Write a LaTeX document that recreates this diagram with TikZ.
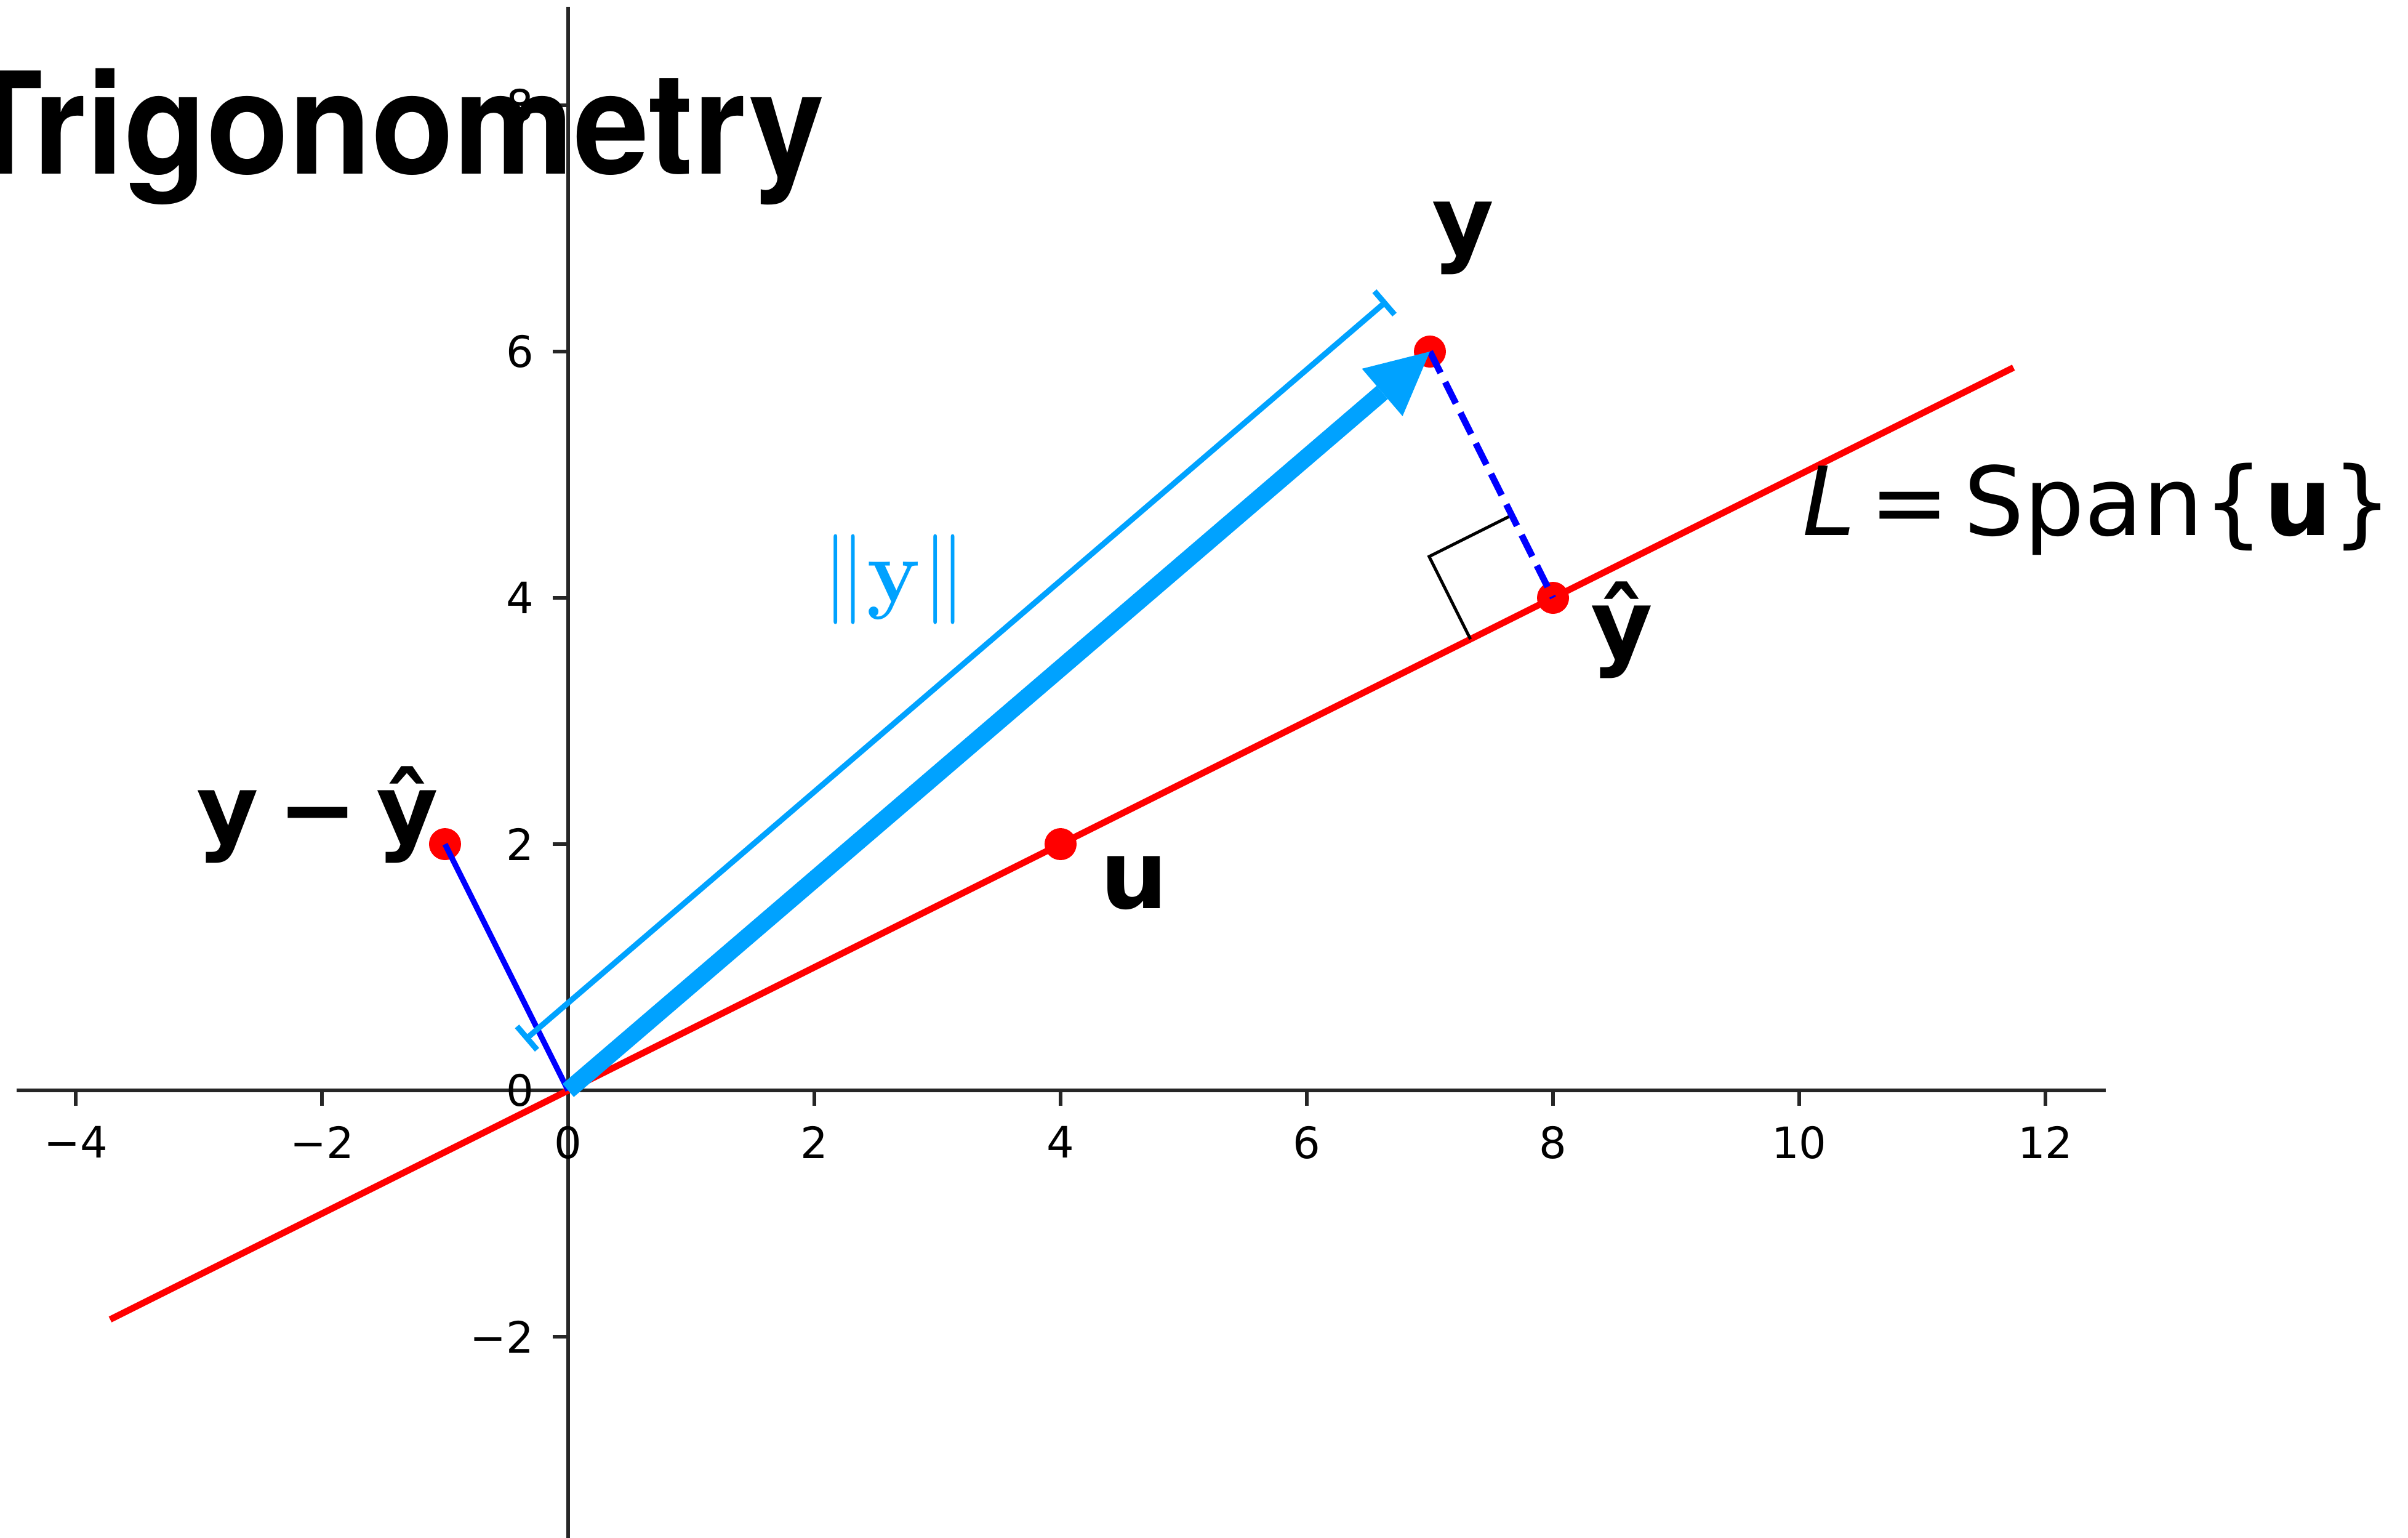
\documentclass[tikz,border=0pt]{standalone}
\usepackage[no-math]{fontspec}
\setmainfont{DejaVu Sans}
\newfontfamily\titlefont{TeX Gyre Heros}
\usepackage{tikz}
\usetikzlibrary{arrows.meta, calc}
\definecolor{normblue}{RGB}{0,162,255}
\definecolor{spanred}{RGB}{255,0,0}
\definecolor{errblue}{RGB}{0,0,255}

\begin{document}
\begin{tikzpicture}[
  every node/.style={inner sep=0pt},
  axis/.style={line width=0.85pt, black!85},
  ticklab/.style={font=\fontsize{10}{12}\selectfont},
  dot/.style={circle, fill=spanred, minimum size=0.26cm},
  veclab/.style={font=\fontsize{22}{26}\selectfont\bfseries},
  spanline/.style={spanred, line width=1.5pt},
  errline/.style={errblue, line width=1.3pt},
  projline/.style={errblue, line width=1.5pt, dash pattern=on 5.5pt off 2.4pt},
  vecarrow/.style={normblue, line width=4pt, -{Triangle[length=0.51cm, width=0.507cm, line width=0pt]}},
  normbar/.style={normblue, line width=1.3pt, {Bar[width=0.25cm]}-{Bar[width=0.25cm]}},
]
  \clip (-4.615,-3.63) rectangle (14.945,8.855);

  % Axes
  \draw[axis] (-4.48,0) -- (12.49,0);
  \draw[axis] (0,-3.7) -- (0,8.8);
  \foreach \x/\t in {-4/−4,-2/−2,0/0,2/2,4/4,6/6,8/8,10/10,12/12} {
    \draw[axis] (\x,0) -- (\x,-0.123);
    \node[ticklab, anchor=north] at (\x,-0.285) {\t};
  }
  \foreach \y/\t in {-2/−2,0/0,2/2,4/4,6/6,8/8} {
    \draw[axis] (0,\y) -- (-0.123,\y);
    \node[ticklab, anchor=east] at (-0.27,\y) {\t};
  }

  % Title
  \node[anchor=base east, font=\titlefont\bfseries\fontsize{32.7}{36}\selectfont, xscale=0.955] (title) at (2.09,7.445) {Trigonometry};

  % Line L and the points
  \coordinate (O) at (0,0);
  \coordinate (Lstart) at (-3.72,-1.86);
  \coordinate (Lend) at (11.74,5.87);
  \draw[spanline] (Lstart) -- (Lend);
  \node[dot] (Y) at (7,6) {};
  \node[dot] (P) at (8,4) {};
  \node[dot] (U) at (4,2) {};
  \node[dot] (E) at (-1,2) {};

  % Right angle mark
  \coordinate (ra1) at ($(P.center)!0.75cm!(O)$);
  \coordinate (ra2) at ($(P.center)!0.75cm!(Y.center)$);
  \draw[line width=0.7pt] (ra1) -- ($(ra1)+(ra2)-(P.center)$) -- (ra2);

  % Vectors
  \draw[errline] (E.center) -- (O);
  \draw[projline] (Y.center) -- (P.center);
  \draw[vecarrow] (O) -- (Y.center);
  \draw[normbar] ($(O)!0.54cm!90:(Y.center)$) -- ($(Y.center)!0.54cm!-90:(O)$);

  % Labels
  \node[veclab, anchor=base] (ylab) at (7.27,6.795) {y};
  \node[veclab, anchor=base] (phat) at (8.56,3.515) {ŷ};
  \node[veclab, anchor=base] (ulab) at (4.6,1.48) {u};
  \node[veclab, anchor=base east] (elab) at (-1.045,2.015) {y\hspace{0.2em}−\hspace{0.2em}ŷ};
  \node[anchor=base west, font=\fontsize{22}{26}\selectfont] (Llab) at (10.02,4.51) {{\itshape L}\hspace{0.15em}=\hspace{0.15em}Span\{{\bfseries u}\}};
  \node[normblue, font=\fontsize{21}{25}\selectfont] (normlab) at (2.65,4.15) {$\|\mathbf{y}\|$};
\end{tikzpicture}
\end{document}
